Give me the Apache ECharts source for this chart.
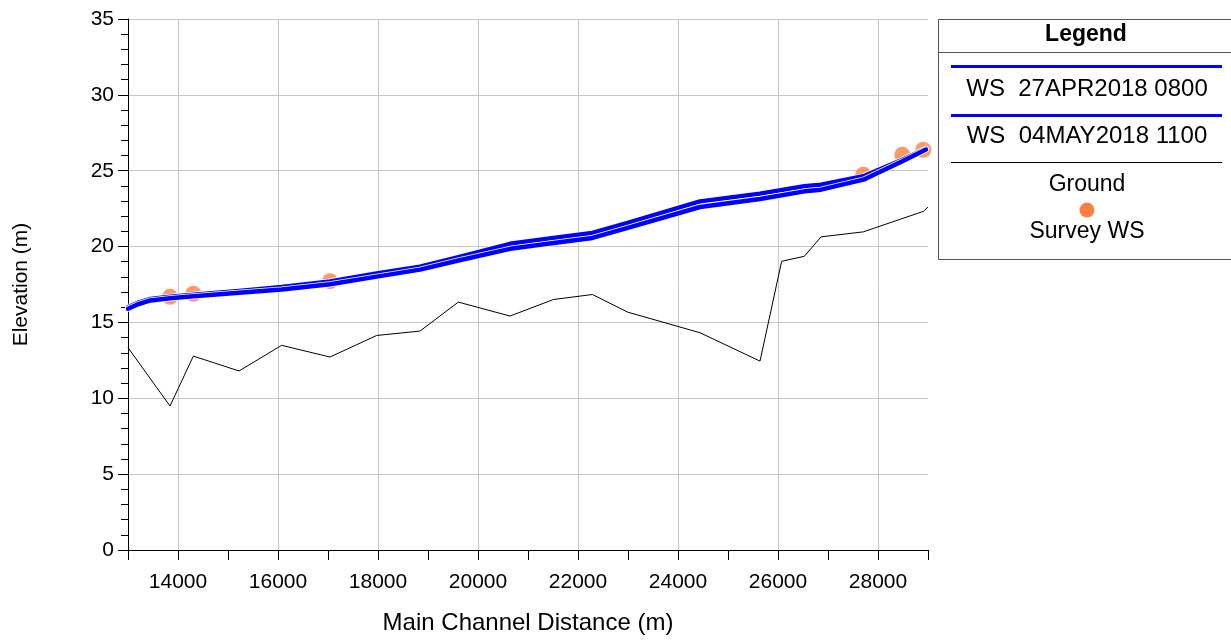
<!DOCTYPE html>
<html>
<head>
<meta charset="utf-8">
<script src="https://cdn.jsdelivr.net/npm/echarts@6/dist/echarts.min.js"></script>
<style>
html,body{margin:0;padding:0;background:#fff;}
#chart{width:1231px;height:640px;}
</style>
</head>
<body>
<div id="chart"></div>
<script>
// ---- data ----
const groundX = [13000, 13840, 14307, 15220, 16073, 17040, 17973, 18840, 19607, 20640, 21507, 22287, 22993, 24440, 25640, 26073, 26527, 26860, 27707, 28907, 29000];
const groundY = [13.34, 9.49, 12.78, 11.8, 13.49, 12.72, 14.14, 14.43, 16.34, 15.42, 16.51, 16.84, 15.68, 14.32, 12.45, 19.03, 19.36, 20.64, 20.97, 22.32, 22.6];

const wsX   = [13000, 13200, 13450, 13840, 14307, 15220, 16073, 17040, 17973, 18840, 19607, 20640, 21507, 22287, 22993, 24440, 25640, 26527, 26860, 27707, 28487, 28960];
const ws27Apr = [16.0, 16.3, 16.55, 16.7, 16.82, 17.08, 17.33, 17.7, 18.22, 18.68, 19.3, 20.18, 20.56, 20.9, 21.56, 22.98, 23.49, 23.97, 24.08, 24.63, 25.72, 26.45];
const ws04May = [15.9, 16.2, 16.45, 16.6, 16.72, 16.95, 17.17, 17.52, 18.02, 18.48, 19.08, 19.85, 20.24, 20.57, 21.23, 22.61, 23.14, 23.64, 23.75, 24.41, 25.62, 26.4];

const surveyX = [13840, 14307, 17040, 27707, 28487, 28907];
const surveyY = [16.69, 16.89, 17.72, 24.74, 26.05, 26.38];

const xLabelValues = [14000, 16000, 18000, 20000, 22000, 24000, 26000, 28000];
const legendNames = ['WS  27APR2018 0800', 'WS  04MAY2018 1100', 'Ground', 'Survey WS'];

// ---- build ----
const pairs = (xs, ys) => xs.map((x, i) => [x, ys[i]]);
const FONT = '"Liberation Sans", Arial, sans-serif';
const BLUE = '#0000ff';
const ORANGE = '#ff8040';

const chart = echarts.init(document.getElementById('chart'), null, {renderer: 'canvas'});

function wsSeries(name, data, width, color, z) {
  return {
    name: name, type: 'line', data: data, xAxisIndex: 0, yAxisIndex: 0,
    showSymbol: false, symbol: 'none', smooth: false, z: z,
    lineStyle: {color: color, width: width, cap: 'round', join: 'round'},
    silent: true, animation: false
  };
}

const option = {
  animation: false,
  backgroundColor: '#fff',
  grid: {left: 128, right: 303, top: 19, bottom: 89, containLabel: false},
  xAxis: [
    {
      type: 'value', min: 13000, max: 29000, interval: 1000,
      name: 'Main Channel Distance (m)', nameLocation: 'middle', nameGap: 61,
      nameTextStyle: {fontFamily: FONT, fontSize: 24, color: '#000'},
      axisLine: {show: true, onZero: false, lineStyle: {color: '#000', width: 1}},
      axisTick: {show: true, length: 10, lineStyle: {color: '#000'}},
      axisLabel: {
        fontFamily: FONT, fontSize: 21, color: '#000', margin: 22,
        formatter: v => (xLabelValues.indexOf(v) >= 0 ? String(v) : '')
      },
      splitLine: {show: false}
    },
    {
      type: 'value', min: 13000, max: 29000, position: 'bottom',
      axisLine: {show: false},
      axisTick: {show: false, customValues: xLabelValues},
      axisLabel: {show: false, customValues: xLabelValues},
      splitLine: {show: true, lineStyle: {color: '#c8c8c8', width: 1}}
    }
  ],
  yAxis: {
    type: 'value', min: 0, max: 35, interval: 5,
    name: 'Elevation (m)', nameLocation: 'middle', nameGap: 96,
    nameTextStyle: {fontFamily: FONT, fontSize: 21, color: '#000'},
    axisLine: {show: true, onZero: false, lineStyle: {color: '#000', width: 1}},
    axisTick: {show: true, length: 10, lineStyle: {color: '#000'}},
    minorTick: {show: true, splitNumber: 5, length: 7, lineStyle: {color: '#000'}},
    axisLabel: {fontFamily: FONT, fontSize: 21, color: '#000', margin: 14},
    splitLine: {show: true, lineStyle: {color: '#c8c8c8', width: 1}}
  },
  series: [
    {
      name: 'Ground', type: 'line', data: pairs(groundX, groundY),
      showSymbol: false, symbol: 'none', z: 3,
      lineStyle: {color: '#000', width: 1}, silent: true
    },
    {
      name: 'Survey WS', type: 'scatter', data: pairs(surveyX, surveyY),
      symbol: 'circle', symbolSize: 16, z: 4,
      itemStyle: {color: ORANGE}, silent: true
    },
    wsSeries('WS 27APR outline', pairs(wsX, ws27Apr), 6, '#ffffff', 5),
    wsSeries(legendNames[0], pairs(wsX, ws27Apr), 4.5, BLUE, 6),
    wsSeries('WS 04MAY outline', pairs(wsX, ws04May), 6, '#ffffff', 7),
    wsSeries(legendNames[1], pairs(wsX, ws04May), 4.5, BLUE, 8)
  ],
  graphic: [
    {type: 'rect', shape: {x: 938.5, y: 19.5, width: 300, height: 240}, style: {fill: '#fff', stroke: '#555', lineWidth: 1}, z: 100},
    {type: 'line', shape: {x1: 938.5, y1: 52.5, x2: 1240, y2: 52.5}, style: {stroke: '#555', lineWidth: 1}, z: 101},
    {type: 'text', x: 1086, y: 35, style: {text: 'Legend', font: 'bold 23px ' + FONT, fill: '#000', align: 'center', verticalAlign: 'middle'}, z: 101},
    {type: 'line', shape: {x1: 951, y1: 66.5, x2: 1222, y2: 66.5}, style: {stroke: BLUE, lineWidth: 3}, z: 101},
    {type: 'text', x: 1087, y: 89, style: {text: legendNames[0], font: '24px ' + FONT, fill: '#000', align: 'center', verticalAlign: 'middle'}, z: 101},
    {type: 'line', shape: {x1: 951, y1: 115.5, x2: 1222, y2: 115.5}, style: {stroke: BLUE, lineWidth: 3}, z: 101},
    {type: 'text', x: 1087, y: 136, style: {text: legendNames[1], font: '24px ' + FONT, fill: '#000', align: 'center', verticalAlign: 'middle'}, z: 101},
    {type: 'line', shape: {x1: 951, y1: 162.5, x2: 1222, y2: 162.5}, style: {stroke: '#000', lineWidth: 1}, z: 101},
    {type: 'text', x: 1087, y: 185, style: {text: legendNames[2], font: '23px ' + FONT, fill: '#000', align: 'center', verticalAlign: 'middle'}, z: 101},
    {type: 'circle', shape: {cx: 1087, cy: 210, r: 7.5}, style: {fill: ORANGE}, z: 101},
    {type: 'text', x: 1087, y: 232, style: {text: legendNames[3], font: '23px ' + FONT, fill: '#000', align: 'center', verticalAlign: 'middle'}, z: 101}
  ]
};
chart.setOption(option);
</script>
</body>
</html>
